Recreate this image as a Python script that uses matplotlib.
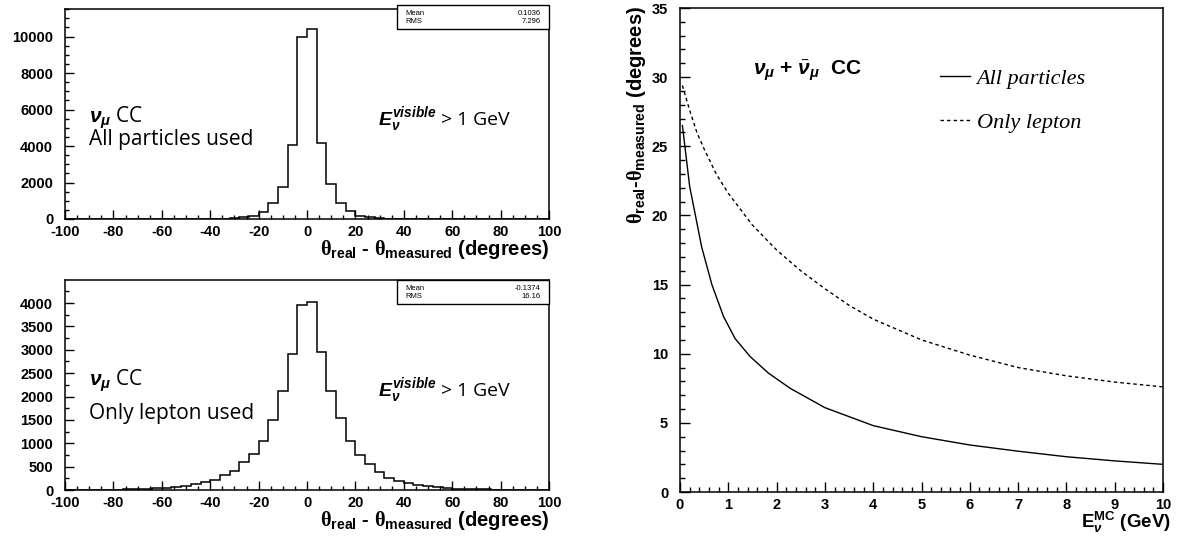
import numpy as np
import matplotlib
matplotlib.use("Agg")
import matplotlib.pyplot as plt
from matplotlib.patches import Rectangle
from matplotlib.lines import Line2D
from matplotlib.ticker import MultipleLocator

# --- histogram data (theta_real - theta_measured, 4 degree bins) ---
bin_edges = np.linspace(-100, 100, 51)
counts_all = [0, 0, 0, 0, 0, 1, 1, 1, 2, 2, 3, 4,
              5, 7, 10, 15, 25, 45, 95, 190, 390, 860, 1750, 4060, 10000,
              10400, 4150, 1900, 870, 420, 190, 95, 45, 22, 12, 8, 5, 3, 2,
              2, 1, 1, 1, 0, 0, 0, 0, 0, 0, 0]
counts_lepton = [3, 4, 5, 6, 8, 10, 14, 18, 25, 35,
                 42, 63, 92, 120, 169, 211, 324, 401, 599, 760,
                 1042, 1493, 2127, 2920, 3960,
                 4020, 2950, 2113, 1535, 1042, 746, 563, 387, 253, 190,
                 148, 106, 77, 63, 42, 28, 22, 16, 12, 9,
                 7, 5, 4, 3, 2]
stats_all = ["0.1036", "7.296"]
stats_lepton = ["-0.1374", "16.16"]
hist_notes = ["All particles used", "Only lepton used"]

# --- resolution vs neutrino energy ---
energy_all = [0.05, 0.2, 0.45, 0.66, 0.9, 1.14, 1.45, 1.83, 2.28, 3.0,
              4.0, 5.0, 6.0, 7.0, 8.0, 9.0, 10.0]
res_all = [26.5, 22.1, 17.7, 15.0, 12.7, 11.1, 9.8, 8.6, 7.5, 6.1,
           4.8, 4.0, 3.4, 2.95, 2.55, 2.25, 2.0]
energy_lep = [0.05, 0.2, 0.35, 0.5, 0.75, 1.0, 1.5, 2.0, 2.5, 3.0, 3.5,
              4.0, 5.0, 6.0, 7.0, 8.0, 9.0, 10.0]
res_lep = [29.4, 27.6, 26.0, 24.8, 23.0, 21.6, 19.3, 17.5, 16.0, 14.7, 13.5,
           12.5, 11.0, 9.9, 9.0, 8.4, 7.95, 7.6]

plt.rcParams["font.family"] = ["Liberation Sans", "DejaVu Sans"]
plt.rcParams["font.weight"] = "bold"
plt.rcParams["axes.unicode_minus"] = False
plt.rcParams["mathtext.fontset"] = "custom"
plt.rcParams["mathtext.rm"] = "Liberation Serif"
plt.rcParams["mathtext.it"] = "Liberation Sans:italic:bold"
plt.rcParams["mathtext.bf"] = "Liberation Sans:bold"

W, H = 1179, 536
fig = plt.figure(figsize=(W / 100, H / 100), dpi=100)

theta_lbl = r"$\mathrm{\theta}_{\mathbf{real}}$ - $\mathrm{\theta}_{\mathbf{measured}}$ (degrees)"
note_font = "Open Sans"


def style_axes(ax, major_len=6.5, minor_len=3.2):
    for sp in ax.spines.values():
        sp.set_linewidth(1.1)
    ax.tick_params(which="both", direction="in", top=False, right=False, width=1.0)
    ax.tick_params(which="major", length=major_len, labelsize=10.5)
    ax.tick_params(which="minor", length=minor_len)
    ax.tick_params(axis="y", pad=8.5)
    ax.tick_params(axis="x", pad=4.5)


def hist_panel(rect, counts, ymax, ymajor, yminor, stats, box_px):
    ax = fig.add_axes(rect)
    ax.stairs(counts, bin_edges, color="black", linewidth=1.1)
    ax.set_xlim(-100, 100)
    ax.set_ylim(0, ymax)
    ax.xaxis.set_major_locator(MultipleLocator(20))
    ax.xaxis.set_minor_locator(MultipleLocator(5))
    ax.yaxis.set_major_locator(MultipleLocator(ymajor))
    ax.yaxis.set_minor_locator(MultipleLocator(yminor))
    style_axes(ax)
    ax.set_xlabel(theta_lbl, fontsize=14.5, fontweight="bold", ha="right")
    ax.xaxis.set_label_coords(1.0, -0.09)

    # stats box
    top_px, bot_px, ax_top_px, ax_h = box_px
    y0 = 1 - (bot_px - ax_top_px) / ax_h
    y1 = 1 - (top_px - ax_top_px) / ax_h
    ax.add_patch(Rectangle((0.686, y0), 0.314, y1 - y0, transform=ax.transAxes,
                           facecolor="white", edgecolor="black", linewidth=1.0,
                           clip_on=False, zorder=5))
    for k, (name, val) in enumerate(zip(["Mean", "RMS"], stats)):
        yy = y1 - (y1 - y0) * (0.36 + 0.34 * k)
        ax.text(0.703, yy, name, transform=ax.transAxes, fontsize=5.5,
                fontweight="normal", va="center", ha="left", zorder=6)
        ax.text(0.983, yy, val, transform=ax.transAxes, fontsize=5.5,
                fontweight="normal", va="center", ha="right", zorder=6)
    return ax


ax_top = hist_panel([65 / W, 1 - 219 / H, 484 / W, 210 / H], counts_all,
                    11512, 2000, 500, stats_all, (5, 29, 9, 210))
ax_bot = hist_panel([65 / W, 1 - 490 / H, 484 / W, 210 / H], counts_lepton,
                    4493, 500, 250, stats_lepton, (280, 304, 280, 210))

for ax, note, ys in [(ax_top, hist_notes[0], (0.483, 0.38, 0.475)),
                     (ax_bot, hist_notes[1], (0.522, 0.365, 0.475))]:
    ax.text(0.05, ys[0], r"$\nu_{\mu}$ CC", transform=ax.transAxes, fontsize=15,
            family=note_font, fontweight="normal", va="center", ha="left")
    ax.text(0.05, ys[1], note, transform=ax.transAxes, fontsize=15,
            family=note_font, fontweight="normal", va="center", ha="left")
    ax.text(0.647, ys[2], r"$E_{\nu}^{visible}$ > 1 GeV", transform=ax.transAxes,
            fontsize=14, family=note_font, fontweight="normal", va="center", ha="left")

# right panel
ax_r = fig.add_axes([680 / W, 1 - 492 / H, 483 / W, 484 / H])
ax_r.plot(energy_all, res_all, color="black", linewidth=1.0)
ax_r.plot(energy_lep, res_lep, color="black", linewidth=1.0, linestyle=(0, (2.5, 2.2)))
ax_r.set_xlim(0, 10)
ax_r.set_ylim(0, 35)
ax_r.xaxis.set_major_locator(MultipleLocator(1))
ax_r.xaxis.set_minor_locator(MultipleLocator(0.2))
ax_r.yaxis.set_major_locator(MultipleLocator(5))
ax_r.yaxis.set_minor_locator(MultipleLocator(1))
style_axes(ax_r, major_len=7, minor_len=3.5)
ax_r.tick_params(axis="x", pad=4)
ax_r.set_xlabel(r"$\mathbf{E}_{\nu}^{\mathbf{MC}}$ (GeV)", fontsize=13.5,
                fontweight="bold", ha="right")
ax_r.xaxis.set_label_coords(1.017, -0.037)
ax_r.set_ylabel(r"$\mathrm{\theta}_{\mathbf{real}}$-$\mathrm{\theta}_{\mathbf{measured}}$ (degrees)",
                fontsize=14.5, fontweight="bold", ha="right")
ax_r.yaxis.set_label_coords(-0.066, 1.005)

ax_r.text(0.152, 0.869, r"$\nu_{\mu}$ + $\bar{\nu}_{\mu}$  CC", transform=ax_r.transAxes,
          fontsize=15, fontweight="bold", va="center", ha="left")

handles = [Line2D([], [], color="black", linewidth=1.0),
           Line2D([], [], color="black", linewidth=1.0, linestyle=(0, (2.5, 2.2)))]
ax_r.legend(handles, ["All particles", "Only lepton"], loc="upper left",
            bbox_to_anchor=(0.538, 0.875), frameon=False, borderpad=0,
            borderaxespad=0, handlelength=1.35, handletextpad=0.3,
            labelspacing=1.05,
            prop={"family": "Liberation Serif", "style": "italic",
                  "weight": "normal", "size": 16})

fig.savefig("out.png", dpi=100)
